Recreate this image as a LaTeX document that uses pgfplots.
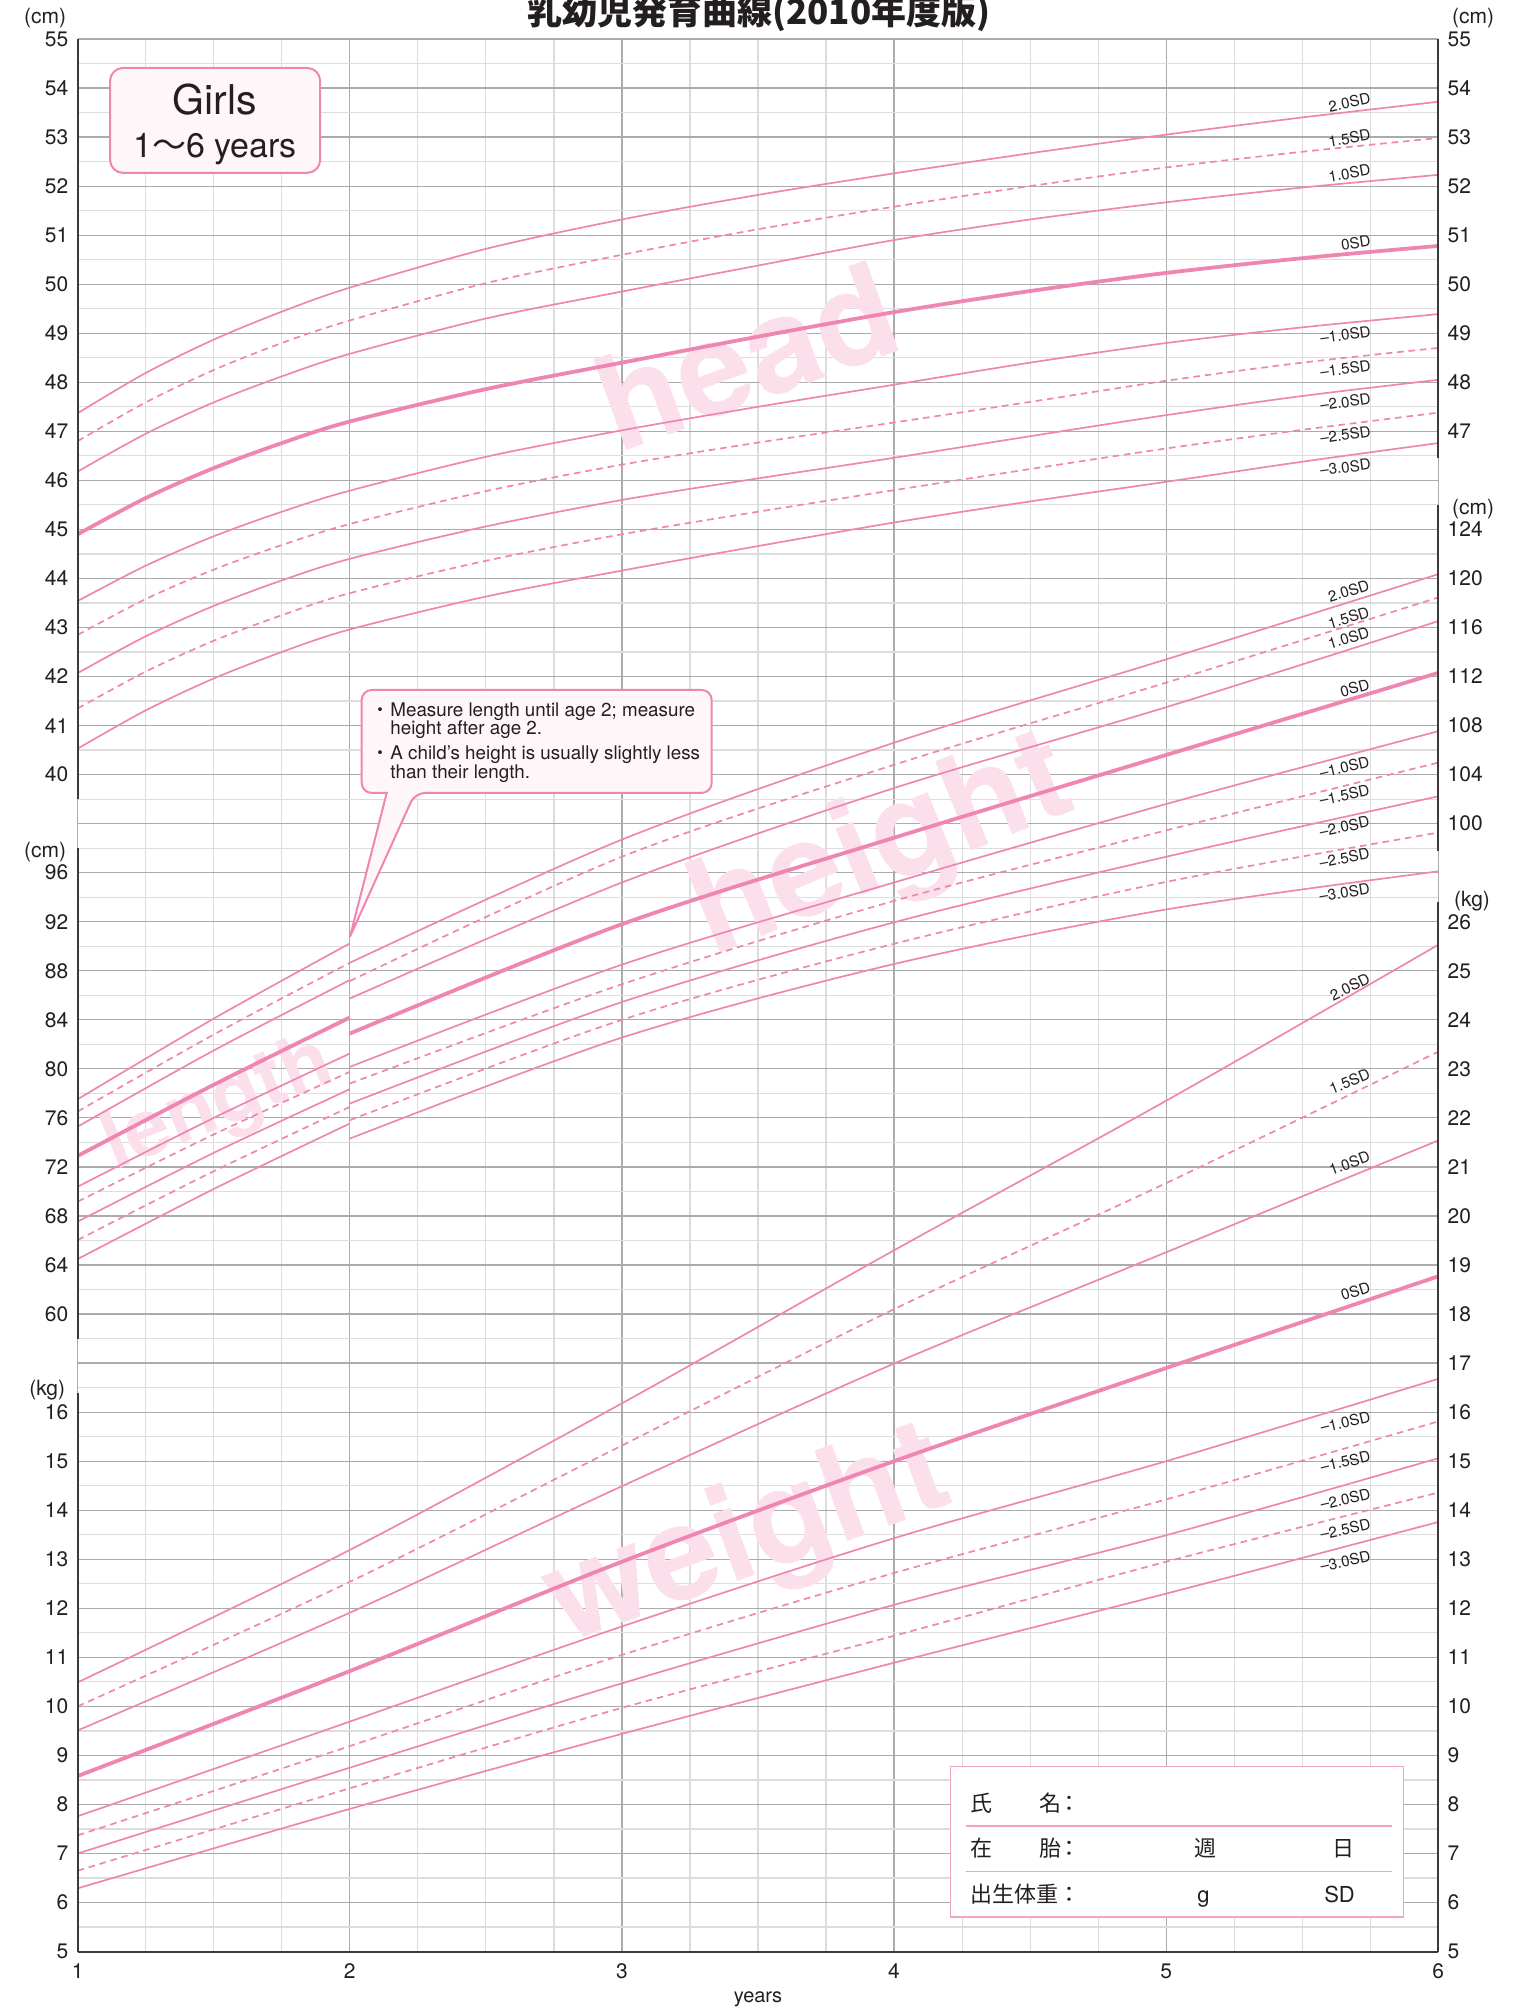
\documentclass[border=0pt]{standalone}
\usepackage{fontspec}
\setmainfont{TeX Gyre Heros}
\newfontfamily\cjk{Noto Sans CJK JP}
\usepackage{pgfplots}
\pgfplotsset{compat=1.18}
\definecolor{cpink}{HTML}{EF86B2}
\definecolor{wm}{HTML}{FBE0EC}
\definecolor{gmaj}{HTML}{ABABAB}
\definecolor{gmin}{HTML}{DDDDDD}
\definecolor{boxfill}{HTML}{FFF6F9}
\definecolor{axdark}{HTML}{3A3A3A}
\definecolor{txt}{HTML}{231F20}
\definecolor{formpink}{HTML}{F2A2C4}
\tikzset{
 sdthin/.style={line width=0.85pt, color=cpink},
 sdthick/.style={line width=1.9pt, color=cpink},
 sddash/.style={line width=0.85pt, color=cpink, dash pattern=on 3.3pt off 2.4pt},
 sdlab/.style={anchor=base east, inner sep=0pt, text=txt, font=\fontsize{7.6}{8}\selectfont},
 wmark/.style={text=wm, font=\fontsize{66}{66}\selectfont\bfseries},
}
\pgfplotsset{
 headc/.style={y filter/.expression={y-16}},
 htc/.style={y filter/.expression={(y-60)/4+13}},
 wtc/.style={y filter/.expression={y-5}},
}
\begin{document}
\begin{tikzpicture}
\begin{axis}[
 at={(0,0)}, anchor=south west,
 scale only axis, width=680.3pt, height=956.3pt,
 xmin=1, xmax=6, ymin=0, ymax=39,
 xtick={1,2,3,4,5,6}, xticklabels={1,2,3,4,5,6},
 ytick={0,...,39},
 yticklabels={5,6,7,8,9,10,11,12,13,14,15,16,{},60,64,68,72,76,80,84,88,92,96,{},40,41,42,43,44,45,46,47,48,49,50,51,52,53,54,55},
 minor x tick num=3, minor y tick num=1,
 grid=both,
 major grid style={draw=gmaj, line width=0.6pt},
 minor grid style={draw=gmin, line width=0.6pt},
 major tick length=0pt, minor tick length=0pt,
 axis line style={draw=none},
 tick label style={font=\fontsize{10.5}{12}\selectfont, text=txt},
 yticklabel style={inner sep=0pt, xshift=-4.5pt},
 xticklabel style={inner sep=0pt, yshift=-6pt},
 clip=false,
 set layers,
]
\begin{pgfonlayer}{pre main}
\draw[gmaj, line width=0.6pt] (axis cs:1,0) -- (axis cs:1,39);
\draw[gmaj, line width=0.6pt] (axis cs:6,0) -- (axis cs:6,39);
\node[wmark, rotate=20] at (axis cs:3.458,32.54) {head};
\node[wmark, rotate=22] at (axis cs:3.958,22.46) {height};
\node[wmark, rotate=22, font=\fontsize{40}{40}\selectfont\bfseries] at (axis cs:1.519,17.23) {length};
\node[wmark, rotate=20] at (axis cs:3.467,8.38) {weight};
\end{pgfonlayer}

% ---- head circumference (cm)
\addplot[sdthin, smooth, headc] coordinates {(1,47.37)(1.25,48.19)(1.5,48.87)(1.75,49.44)(2,49.93)(2.5,50.72)(3,51.32)(3.5,51.82)(4,52.26)(4.5,52.67)(5,53.05)(5.5,53.4)(6,53.72)};
\addplot[sddash, smooth, headc] coordinates {(1,46.8)(1.25,47.59)(1.5,48.25)(1.75,48.8)(2,49.26)(2.5,50.02)(3,50.6)(3.5,51.12)(4,51.58)(4.5,52.0)(5,52.38)(5.5,52.7)(6,52.98)};
\addplot[sdthin, smooth, headc] coordinates {(1,46.18)(1.25,46.95)(1.5,47.59)(1.75,48.12)(2,48.58)(2.5,49.3)(3,49.85)(3.5,50.38)(4,50.9)(4.5,51.32)(5,51.67)(5.5,51.97)(6,52.23)};
\addplot[sdthick, smooth, headc] coordinates {(1,44.9)(1.25,45.64)(1.5,46.25)(1.75,46.76)(2,47.2)(2.5,47.86)(3,48.4)(3.5,48.93)(4,49.43)(4.5,49.86)(5,50.23)(5.5,50.53)(6,50.78)};
\addplot[sdthin, smooth, headc] coordinates {(1,43.54)(1.25,44.26)(1.5,44.86)(1.75,45.36)(2,45.79)(2.5,46.48)(3,47.02)(3.5,47.5)(4,47.95)(4.5,48.4)(5,48.8)(5.5,49.12)(6,49.39)};
\addplot[sddash, smooth, headc] coordinates {(1,42.85)(1.25,43.58)(1.5,44.18)(1.75,44.68)(2,45.11)(2.5,45.78)(3,46.32)(3.5,46.77)(4,47.18)(4.5,47.6)(5,48.03)(5.5,48.4)(6,48.7)};
\addplot[sdthin, smooth, headc] coordinates {(1,42.07)(1.25,42.82)(1.5,43.44)(1.75,43.96)(2,44.4)(2.5,45.06)(3,45.6)(3.5,46.04)(4,46.46)(4.5,46.9)(5,47.33)(5.5,47.72)(6,48.05)};
\addplot[sddash, smooth, headc] coordinates {(1,41.35)(1.25,42.1)(1.5,42.73)(1.75,43.25)(2,43.7)(2.5,44.36)(3,44.9)(3.5,45.36)(4,45.8)(4.5,46.23)(5,46.65)(5.5,47.03)(6,47.38)};
\addplot[sdthin, smooth, headc] coordinates {(1,40.53)(1.25,41.31)(1.5,41.96)(1.75,42.5)(2,42.96)(2.5,43.63)(3,44.16)(3.5,44.66)(4,45.14)(4.5,45.57)(5,45.97)(5.5,46.38)(6,46.76)};

% ---- length 1-2 y (cm)
\addplot[sdthin, smooth, htc] coordinates {(1,77.52)(1.5,84.1)(2,90.23)};
\addplot[sddash, smooth, htc] coordinates {(1,76.52)(1.5,82.8)(2,88.65)};
\addplot[sdthin, smooth, htc] coordinates {(1,75.29)(1.5,81.5)(2,87.24)};
\addplot[sdthick, smooth, htc] coordinates {(1,72.9)(1.5,78.7)(2,84.19)};
\addplot[sdthin, smooth, htc] coordinates {(1,70.39)(1.5,76.0)(2,81.25)};
\addplot[sddash, smooth, htc] coordinates {(1,69.17)(1.5,74.65)(2,79.76)};
\addplot[sdthin, smooth, htc] coordinates {(1,67.54)(1.5,73.15)(2,78.34)};
\addplot[sddash, smooth, htc] coordinates {(1,66.04)(1.5,71.65)(2,76.9)};
\addplot[sdthin, smooth, htc] coordinates {(1,64.49)(1.5,70.2)(2,75.54)};

% ---- height 2-6 y (cm)
\addplot[sdthin, smooth, htc] coordinates {(2,88.65)(3,98.7)(4,106.6)(5,113.4)(6,120.35)};
\addplot[sddash, smooth, htc] coordinates {(2,87.16)(3,97.3)(4,104.8)(5,111.5)(6,118.45)};
\addplot[sdthin, smooth, htc] coordinates {(2,85.74)(3,95.2)(4,102.9)(5,109.5)(6,116.52)};
\addplot[sdthick, smooth, htc] coordinates {(2,82.88)(3,91.8)(4,98.85)(5,105.6)(6,112.3)};
\addplot[sdthin, smooth, htc] coordinates {(2,80.16)(3,88.5)(4,95.2)(5,101.6)(6,107.54)};
\addplot[sddash, smooth, htc] coordinates {(2,78.8)(3,86.9)(4,93.7)(5,99.45)(6,104.98)};
\addplot[sdthin, smooth, htc] coordinates {(2,77.17)(3,85.45)(4,91.95)(5,97.3)(6,102.23)};
\addplot[sddash, smooth, htc] coordinates {(2,75.81)(3,84.0)(4,90.2)(5,95.25)(6,99.27)};
\addplot[sdthin, smooth, htc] coordinates {(2,74.31)(3,82.55)(4,88.55)(5,93.0)(6,96.11)};

% ---- weight (kg)
\addplot[sdthin, smooth, wtc] coordinates {(1,10.49)(2,13.19)(3,16.18)(4,19.3)(5,22.35)(6,25.53)};
\addplot[sddash, smooth, wtc] coordinates {(1,10.0)(2,12.54)(3,15.32)(4,18.1)(5,20.67)(6,23.35)};
\addplot[sdthin, smooth, wtc] coordinates {(1,9.51)(2,11.91)(3,14.49)(4,16.99)(5,19.26)(6,21.54)};
\addplot[sdthick, smooth, wtc] coordinates {(1,8.58)(2,10.72)(3,12.95)(4,15.0)(5,16.9)(6,18.77)};
\addplot[sdthin, smooth, wtc] coordinates {(1,7.76)(2,9.69)(3,11.63)(4,13.43)(5,15.0)(6,16.68)};
\addplot[sddash, smooth, wtc] coordinates {(1,7.37)(2,9.19)(3,11.05)(4,12.72)(5,14.22)(6,15.81)};
\addplot[sdthin, smooth, wtc] coordinates {(1,7.0)(2,8.75)(3,10.47)(4,12.07)(5,13.49)(6,15.06)};
\addplot[sddash, smooth, wtc] coordinates {(1,6.65)(2,8.33)(3,9.97)(4,11.44)(5,12.95)(6,14.36)};
\addplot[sdthin, smooth, wtc] coordinates {(1,6.29)(2,7.91)(3,9.44)(4,10.89)(5,12.3)(6,13.76)};

% ---- axis segments
\draw[axdark, line width=1pt] (axis cs:1,0) -- (axis cs:6,0);
\draw[axdark, line width=1pt] (axis cs:1,0) -- (axis cs:1,11.4);
\draw[axdark, line width=1pt] (axis cs:1,12.5) -- (axis cs:1,22.5);
\draw[axdark, line width=1pt] (axis cs:1,23.5) -- (axis cs:1,39);
\draw[axdark, line width=1pt] (axis cs:6,0) -- (axis cs:6,21.4);
\draw[axdark, line width=1pt] (axis cs:6,22.45) -- (axis cs:6,29.5);
\draw[axdark, line width=1pt] (axis cs:6,30.46) -- (axis cs:6,39);

% ---- unit labels
\node[text=txt, font=\fontsize{10.5}{12}\selectfont] at (axis cs:0.8806,39.42) {(cm)};
\node[text=txt, font=\fontsize{10.5}{12}\selectfont] at (axis cs:0.8806,22.43) {(cm)};
\node[text=txt, font=\fontsize{10.5}{12}\selectfont] at (axis cs:0.8880,11.44) {(kg)};
\node[text=txt, font=\fontsize{10.5}{12}\selectfont] at (axis cs:6.128,39.42) {(cm)};
\node[text=txt, font=\fontsize{10.5}{12}\selectfont] at (axis cs:6.128,29.42) {(cm)};
\node[text=txt, font=\fontsize{10.5}{12}\selectfont] at (axis cs:6.124,21.41) {(kg)};
\node[text=txt, font=\fontsize{10}{11}\selectfont] at (axis cs:3.5,-0.967) {years};

% ---- SD labels: head
\node[sdlab, rotate=12] at (axis cs:5.755,37.69) {2.0SD};
\node[sdlab, rotate=10] at (axis cs:5.755,36.94) {1.5SD};
\node[sdlab, rotate=10] at (axis cs:5.755,36.23) {1.0SD};
\node[sdlab, rotate=9] at (axis cs:5.755,34.78) {0SD};
\node[sdlab, rotate=8] at (axis cs:5.755,32.93) {–1.0SD};
\node[sdlab, rotate=8] at (axis cs:5.755,32.24) {–1.5SD};
\node[sdlab, rotate=8] at (axis cs:5.755,31.56) {–2.0SD};
\node[sdlab, rotate=8] at (axis cs:5.755,30.89) {–2.5SD};
\node[sdlab, rotate=7] at (axis cs:5.755,30.22) {–3.0SD};
% height
\node[sdlab, rotate=17] at (axis cs:5.752,27.77) {2.0SD};
\node[sdlab, rotate=17] at (axis cs:5.752,27.22) {1.5SD};
\node[sdlab, rotate=17] at (axis cs:5.752,26.81) {1.0SD};
\node[sdlab, rotate=14] at (axis cs:5.752,25.73) {0SD};
\node[sdlab, rotate=13] at (axis cs:5.752,24.16) {–1.0SD};
\node[sdlab, rotate=12] at (axis cs:5.752,23.58) {–1.5SD};
\node[sdlab, rotate=12] at (axis cs:5.752,22.94) {–2.0SD};
\node[sdlab, rotate=11] at (axis cs:5.752,22.29) {–2.5SD};
\node[sdlab, rotate=9] at (axis cs:5.752,21.57) {–3.0SD};
% weight
\node[sdlab, rotate=26] at (axis cs:5.755,19.76) {2.0SD};
\node[sdlab, rotate=22] at (axis cs:5.755,17.80) {1.5SD};
\node[sdlab, rotate=20] at (axis cs:5.755,16.12) {1.0SD};
\node[sdlab, rotate=17] at (axis cs:5.755,13.45) {0SD};
\node[sdlab, rotate=13] at (axis cs:5.755,10.81) {–1.0SD};
\node[sdlab, rotate=13] at (axis cs:5.755,10.00) {–1.5SD};
\node[sdlab, rotate=13] at (axis cs:5.755,9.24) {–2.0SD};
\node[sdlab, rotate=12] at (axis cs:5.755,8.61) {–2.5SD};
\node[sdlab, rotate=12] at (axis cs:5.755,7.96) {–3.0SD};

% ---- Girls box
\draw[cpink, line width=1pt, fill=boxfill, rounded corners=6.5pt] (axis cs:1.119,38.41) rectangle (axis cs:1.891,36.27);
\node[anchor=base, text=txt, inner sep=0pt, font=\fontsize{20.5}{22}\selectfont] at (axis cs:1.5046,37.45) {Girls};
\node[anchor=base, text=txt, inner sep=0pt, font=\fontsize{17}{19}\selectfont] at (axis cs:1.5046,36.59) {1{\cjk 〜}6 years};

% ---- callout
\draw[cpink, line width=1pt, fill=boxfill] (axis cs:2.0007,20.695) -- (axis cs:2.1355,23.626) [rounded corners=5pt] -- (axis cs:2.0437,23.626) -- (axis cs:2.0437,25.726) -- (axis cs:3.3298,25.726) -- (axis cs:3.3298,23.626) -- (axis cs:2.2395,23.626) [sharp corners] -- cycle;
\begin{scope}[every node/.style={anchor=base west, inner sep=0pt, text=txt, font=\fontsize{9.4}{10}\selectfont}]
\node at (axis cs:2.1477,25.18) {Measure length until age 2; measure};
\node at (axis cs:2.1477,24.81) {height after age 2.};
\node at (axis cs:2.1477,24.30) {A child’s height is usually slightly less};
\node at (axis cs:2.1477,23.925) {than their length.};
\end{scope}
\node[anchor=base, inner sep=0pt, text=txt, font=\fontsize{9}{10}\selectfont] at (axis cs:2.111,25.18) {\cjk ・};
\node[anchor=base, inner sep=0pt, text=txt, font=\fontsize{9}{10}\selectfont] at (axis cs:2.111,24.30) {\cjk ・};

% ---- form box
\draw[formpink, line width=0.7pt, fill=white] (axis cs:4.2074,3.770) rectangle (axis cs:5.873,0.708);
\draw[formpink, line width=0.8pt] (axis cs:4.264,2.561) -- (axis cs:5.830,2.561);
\draw[formpink, line width=0.8pt] (axis cs:4.264,1.637) -- (axis cs:5.830,1.637);
\begin{scope}[every node/.style={anchor=base west, inner sep=0pt, text=txt, font=\fontsize{11}{12}\selectfont\cjk}]
\node at (axis cs:4.278,2.853) {氏};
\node at (axis cs:4.532,2.853) {名};
\node at (axis cs:4.278,1.935) {在};
\node at (axis cs:4.532,1.935) {胎};
\node at (axis cs:4.278,1.005) {出生体重};
\end{scope}
\begin{scope}[every node/.style={anchor=base, inner sep=0pt, text=txt, font=\fontsize{11}{12}\selectfont\cjk}]
\node at (axis cs:4.646,2.853) {：};
\node at (axis cs:4.646,1.935) {：};
\node at (axis cs:4.646,1.005) {：};
\node at (axis cs:5.146,1.935) {週};
\node at (axis cs:5.651,1.935) {日};
\end{scope}
\node[anchor=base, inner sep=0pt, text=txt, font=\fontsize{11}{12}\selectfont] at (axis cs:5.137,1.005) {g};
\node[anchor=base, inner sep=0pt, text=txt, font=\fontsize{11}{12}\selectfont] at (axis cs:5.637,1.005) {SD};
\end{axis}

\begin{axis}[
 at={(0,0)}, anchor=south west,
 scale only axis, width=680.3pt, height=956.3pt,
 xmin=1, xmax=6, ymin=0, ymax=39,
 xtick=\empty,
 ytick={0,...,39},
 yticklabels={5,6,7,8,9,10,11,12,13,14,15,16,17,18,19,20,21,22,23,24,25,26,{},100,104,108,112,116,120,124,{},47,48,49,50,51,52,53,54,55},
 yticklabel pos=right,
 axis line style={draw=none},
 major tick length=0pt,
 tick label style={font=\fontsize{10.5}{12}\selectfont, text=txt},
 yticklabel style={anchor=west, inner sep=0pt, xshift=4.5pt},
]
\end{axis}

\node[anchor=base, inner sep=0pt, text=txt, font=\fontsize{17.5}{19}\selectfont\cjk\bfseries] at (340.5pt,963.3pt) {乳幼児発育曲線(2010年度版)};

\pgfresetboundingbox
\useasboundingbox (-38.85pt,-30.2pt) rectangle (717.65pt,975.8pt);
\end{tikzpicture}
\end{document}
